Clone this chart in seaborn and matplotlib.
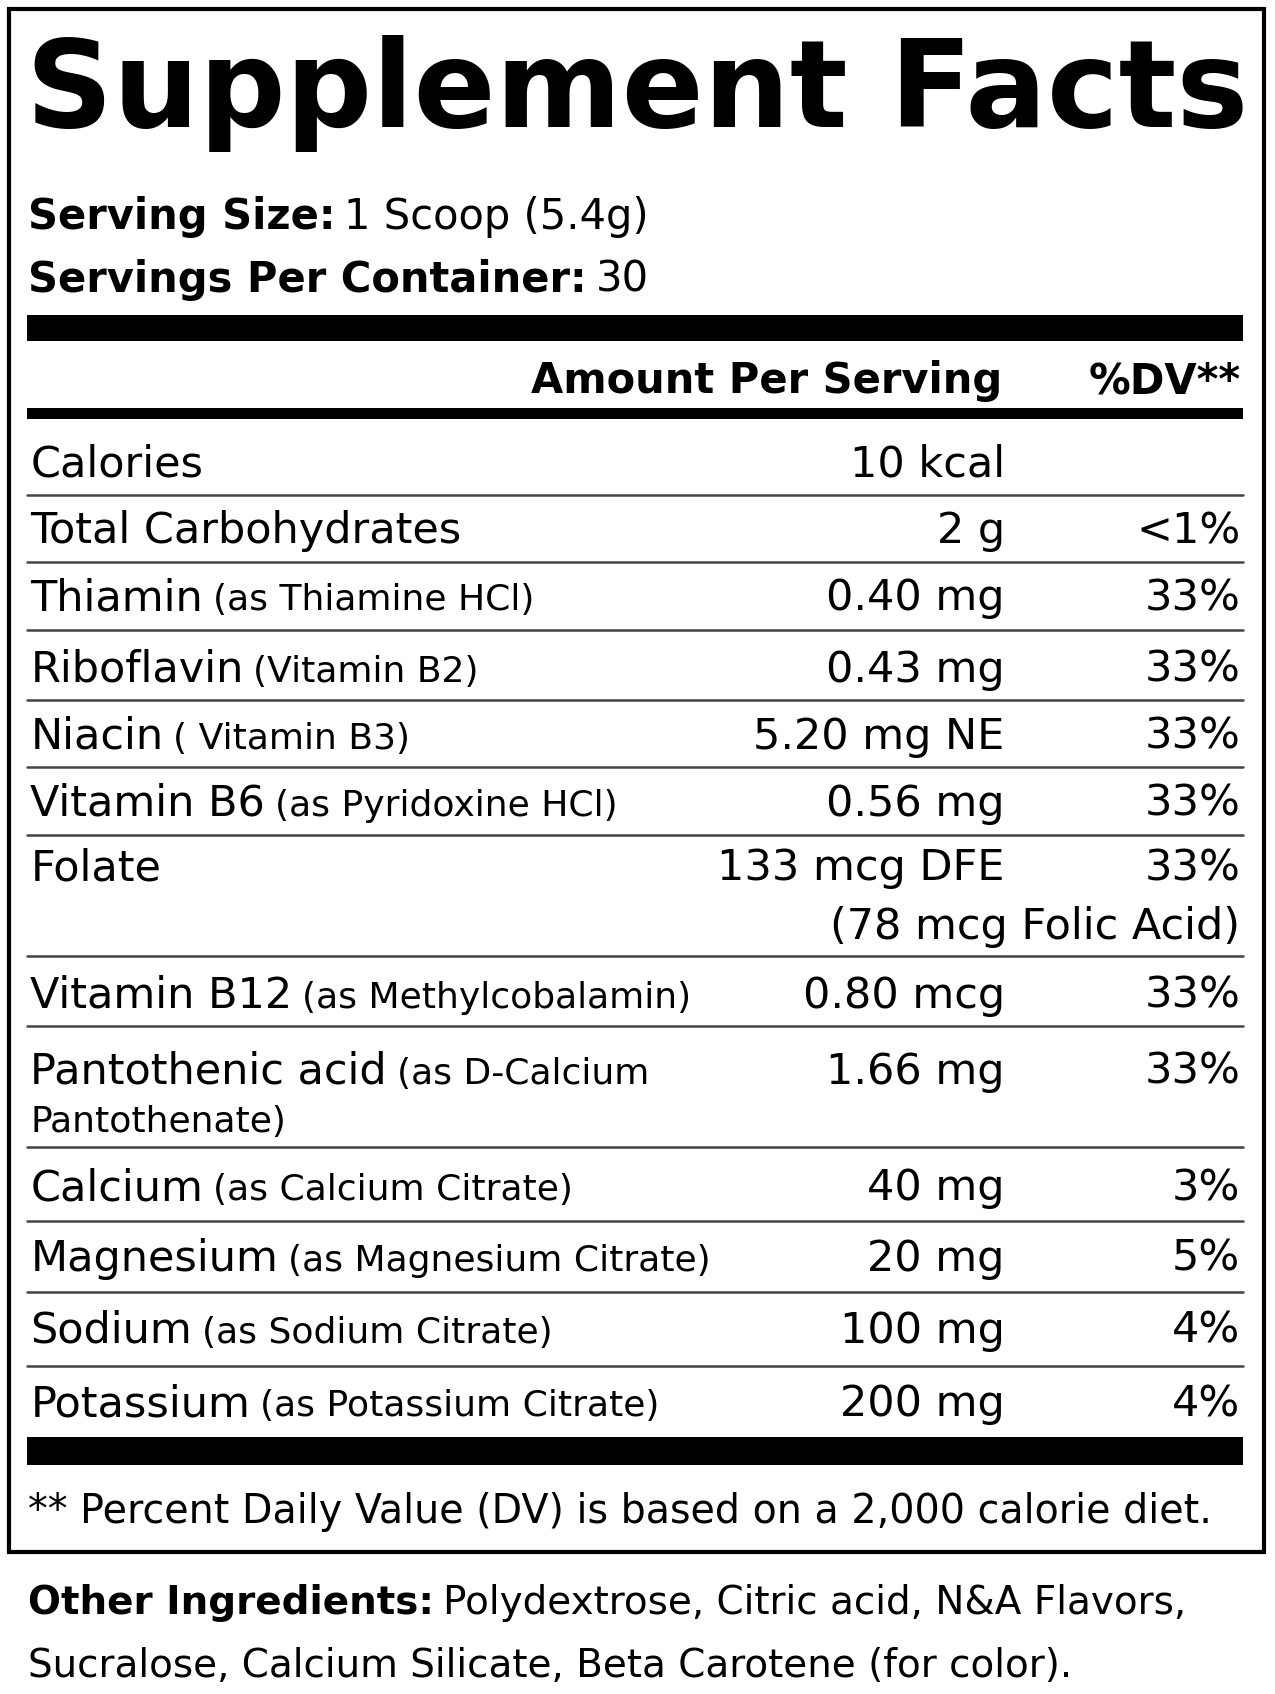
import matplotlib
matplotlib.use("Agg")
import matplotlib.pyplot as plt
import seaborn as sns

sns.set_theme(style="white")
plt.rcParams['font.family'] = ['DejaVu Sans']
plt.rcParams['text.color'] = 'black'

title = "Supplement Facts"
serving_size = "1 Scoop (5.4g)"
servings_per = "30"
names = ["Calories", "Total Carbohydrates", "Thiamin", "Riboflavin", "Niacin", "Vitamin B6",
         "Folate", "Vitamin B12", "Pantothenic acid", "Calcium", "Magnesium", "Sodium", "Potassium"]
subs = ["", "", "(as Thiamine HCl)", "(Vitamin B2)", "( Vitamin B3)", "(as Pyridoxine HCl)",
        "", "(as Methylcobalamin)", "(as D-Calcium", "(as Calcium Citrate)",
        "(as Magnesium Citrate)", "(as Sodium Citrate)", "(as Potassium Citrate)"]
amounts = ["10 kcal", "2 g", "0.40 mg", "0.43 mg", "5.20 mg NE", "0.56 mg", "133 mcg DFE",
           "0.80 mcg", "1.66 mg", "40 mg", "20 mg", "100 mg", "200 mg"]
dvs = ["", "<1%", "33%", "33%", "33%", "33%", "33%", "33%", "33%", "3%", "5%", "4%", "4%"]
row_y = [428, 490, 552, 618, 680, 742, 802, 920, 990, 1098, 1163, 1230, 1298]
sep_y = [458, 520, 583, 648, 710, 773, 885, 950, 1062, 1130, 1196, 1264]
footnote = "** Percent Daily Value (DV) is based on a 2,000 calorie diet."
other1 = "Polydextrose, Citric acid, N&A Flavors,"
other2 = "Sucralose, Calcium Silicate, Beta Carotene (for color)."

fig = plt.figure(figsize=(12.75, 16.94), dpi=100)
ax = fig.add_axes([0, 0, 1, 1])
ax.set_xlim(0, 1180); ax.set_ylim(1568, 0); ax.axis('off')
fig.canvas.draw()
r = fig.canvas.get_renderer()
inv = ax.transData.inverted()

def after(t, gap=8):
    bb = t.get_window_extent(renderer=r)
    return inv.transform((bb.x1, bb.y0))[0] + gap

ax.add_patch(plt.Rectangle((8, 8), 1162, 1429, fill=False, lw=3, ec='black'))
ax.text(24, 118, title, fontsize=87, fontweight='bold', va='baseline')
bf = 30
t = ax.text(26, 212, "Serving Size:", fontsize=bf, fontweight='bold', va='baseline')
ax.text(after(t), 212, serving_size, fontsize=bf, va='baseline')
t = ax.text(26, 270, "Servings Per Container:", fontsize=bf, fontweight='bold', va='baseline')
ax.text(after(t), 270, servings_per, fontsize=bf, va='baseline')
for y0, h in [(292, 24), (378, 10), (1330, 26)]:
    ax.add_patch(plt.Rectangle((25, y0), 1125, h, color='black', lw=0))
ax.text(928, 364, "Amount Per Serving", fontsize=bf, fontweight='bold', ha='right', va='baseline')
ax.text(1148, 364, "%DV**", fontsize=bf, fontweight='bold', ha='right', va='baseline')
for y in sep_y:
    ax.plot([25, 1150], [y, y], color='#444444', lw=1.8)
rf = 31
for n, s, a, d, y in zip(names, subs, amounts, dvs, row_y):
    yb = y + 13
    t = ax.text(28, yb, n, fontsize=rf, va='baseline')
    if s:
        ax.text(after(t, 9), yb, s, fontsize=26, va='baseline')
    ax.text(930, yb, a, fontsize=rf, ha='right', va='baseline')
    ax.text(1148, yb, d, fontsize=rf, ha='right', va='baseline')
ax.text(1148, 869, "(78 mcg Folic Acid)", fontsize=rf, ha='right', va='baseline')
ax.text(28, 1048, "Pantothenate)", fontsize=26, va='baseline')
ax.text(26, 1410, footnote, fontsize=28.5, va='baseline')
t = ax.text(26, 1494, "Other Ingredients:", fontsize=28, fontweight='bold', va='baseline')
ax.text(after(t), 1494, other1, fontsize=28, va='baseline')
ax.text(26, 1552, other2, fontsize=28, va='baseline')
fig.savefig("out.png", dpi=100)
